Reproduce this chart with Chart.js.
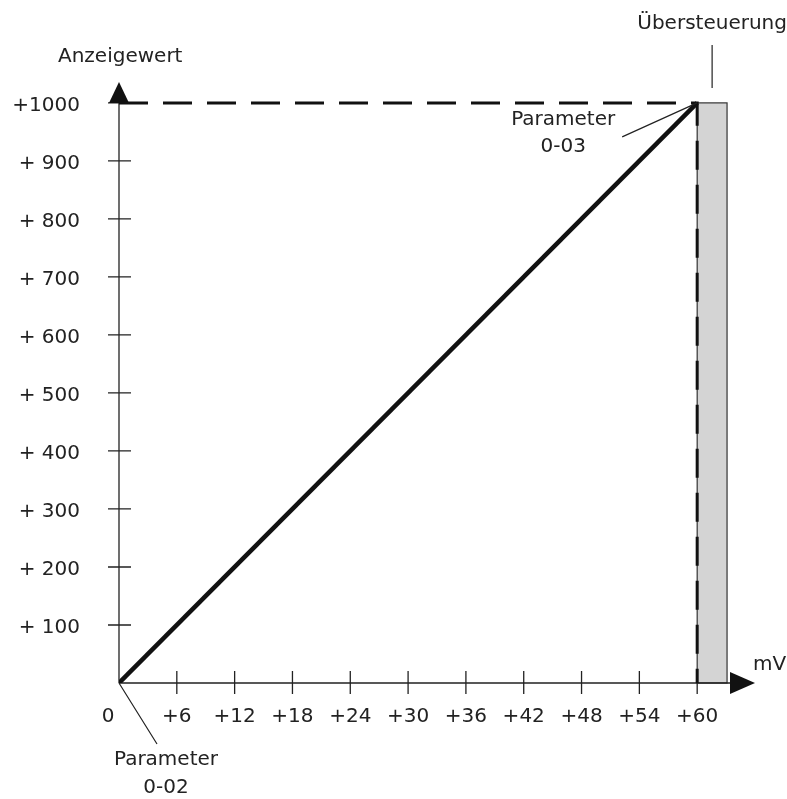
<!DOCTYPE html>
<html>
<head>
<meta charset="utf-8">
<script src="https://cdn.jsdelivr.net/npm/chart.js@4.4.0/dist/chart.umd.min.js"></script>
<style>
    html, body { margin: 0; padding: 0; background: #fff; }
</style>
</head>
<body>
<canvas id="lineChart" width="787" height="799"></canvas>
<script>
// axis ticks
const xTicks = [0, 6, 12, 18, 24, 30, 36, 42, 48, 54, 60];
const xTickLabels = ['0', '+6', '+12', '+18', '+24', '+30', '+36', '+42', '+48', '+54', '+60'];
const yTicks = [100, 200, 300, 400, 500, 600, 700, 800, 900, 1000];
const yTickLabels = ['+ 100', '+ 200', '+ 300', '+ 400', '+ 500', '+ 600', '+ 700', '+ 800', '+ 900', '+1000'];

// display value vs. input mV
const signalX = [0, 60];
const signalY = [0, 1000];

// dashed limit lines
const limitX = [0, 60, 60];
const limitY = [1000, 1000, 0];

// overload band (mV)
const overloadBand = [60, 63.1];
const overloadTop = 1000;

const xMax = 66;
const yMax = 1036;

const FONT = '20px "DejaVu Sans", sans-serif';
const INK = '#222';

function points(xs, ys) {
    return xs.map((x, i) => ({ x: x, y: ys[i] }));
}

const schemePlugin = {
    id: 'scheme',
    beforeDatasetsDraw(chart) {
        const ctx = chart.ctx;
        const xs = chart.scales.x;
        const ys = chart.scales.y;
        const x0 = xs.getPixelForValue(0);
        const y0 = ys.getPixelForValue(0);

        // overload band
        const bl = xs.getPixelForValue(overloadBand[0]);
        const br = xs.getPixelForValue(overloadBand[1]);
        const bt = ys.getPixelForValue(overloadTop);
        ctx.save();
        ctx.fillStyle = '#d4d4d4';
        ctx.fillRect(bl, bt, br - bl, y0 - bt);
        ctx.strokeStyle = '#333';
        ctx.lineWidth = 1.2;
        ctx.strokeRect(bl, bt, br - bl, y0 - bt);

        // axes
        ctx.strokeStyle = INK;
        ctx.lineWidth = 1.3;
        ctx.beginPath();
        ctx.moveTo(x0, y0);
        ctx.lineTo(x0, chart.chartArea.top + 18);
        ctx.moveTo(x0, y0);
        ctx.lineTo(chart.chartArea.right - 22, y0);
        xTicks.slice(1).forEach(v => {
            const px = xs.getPixelForValue(v);
            ctx.moveTo(px, y0 - 12);
            ctx.lineTo(px, y0 + 11);
        });
        yTicks.forEach(v => {
            const py = ys.getPixelForValue(v);
            ctx.moveTo(x0 - 11, py);
            ctx.lineTo(x0 + 12, py);
        });
        ctx.stroke();

        // arrow heads
        ctx.fillStyle = '#111';
        const top = chart.chartArea.top;
        ctx.beginPath();
        ctx.moveTo(x0, top);
        ctx.lineTo(x0 - 10, top + 21);
        ctx.lineTo(x0 + 10, top + 21);
        ctx.closePath();
        ctx.fill();
        const right = chart.chartArea.right;
        ctx.beginPath();
        ctx.moveTo(right, y0);
        ctx.lineTo(right - 25, y0 - 11);
        ctx.lineTo(right - 25, y0 + 11);
        ctx.closePath();
        ctx.fill();
        ctx.restore();
    },
    afterDraw(chart) {
        const ctx = chart.ctx;
        const xs = chart.scales.x;
        const ys = chart.scales.y;
        const x0 = xs.getPixelForValue(0);
        const y0 = ys.getPixelForValue(0);
        const xEnd = xs.getPixelForValue(60);
        const yEnd = ys.getPixelForValue(1000);

        ctx.save();
        ctx.font = FONT;
        ctx.fillStyle = INK;
        ctx.textBaseline = 'middle';

        // tick labels
        ctx.textAlign = 'right';
        yTicks.forEach((v, i) => {
            ctx.fillText(yTickLabels[i], x0 - 39, ys.getPixelForValue(v) + 3);
        });
        ctx.textAlign = 'center';
        xTicks.forEach((v, i) => {
            const off = v === 0 ? -11 : 0;
            ctx.fillText(xTickLabels[i], xs.getPixelForValue(v) + off, y0 + 34);
        });

        // axis titles
        ctx.textAlign = 'left';
        ctx.fillText('Anzeigewert', x0 - 61, 57);
        ctx.fillText('mV', chart.chartArea.right - 2, y0 - 18);

        // leader lines
        ctx.strokeStyle = INK;
        ctx.lineWidth = 1.2;
        const bandMid = xs.getPixelForValue((overloadBand[0] + overloadBand[1]) / 2);
        ctx.beginPath();
        ctx.moveTo(bandMid, yEnd - 15);
        ctx.lineTo(bandMid, 45);
        ctx.moveTo(xEnd, yEnd);
        ctx.lineTo(xEnd - 75, yEnd + 34);
        ctx.moveTo(x0, y0);
        ctx.lineTo(x0 + 38, y0 + 61);
        ctx.stroke();

        // annotations
        ctx.textAlign = 'center';
        ctx.fillText('Übersteuerung', bandMid, 24);
        ctx.fillText('Parameter', xEnd - 134, yEnd + 17);
        ctx.fillText('0-03', xEnd - 134, yEnd + 44);
        ctx.fillText('Parameter', x0 + 47, y0 + 77);
        ctx.fillText('0-02', x0 + 47, y0 + 105);
        ctx.restore();
    }
};

const ctx = document.getElementById('lineChart').getContext('2d');
new Chart(ctx, {
    type: 'scatter',
    data: {
        datasets: [{
            data: points(signalX, signalY),
            showLine: true,
            borderColor: '#111',
            borderWidth: 4.5,
            pointRadius: 0
        }, {
            data: points(limitX, limitY),
            showLine: true,
            borderColor: '#111',
            borderWidth: 3,
            borderDash: [29, 15],
            pointRadius: 0
        }]
    },
    options: {
        responsive: false,
        devicePixelRatio: 1,
        animation: false,
        layout: {
            padding: { left: 119, right: 32, top: 82, bottom: 116 }
        },
        plugins: {
            legend: { display: false },
            tooltip: { enabled: false }
        },
        scales: {
            x: { type: 'linear', min: 0, max: xMax, display: false },
            y: { type: 'linear', min: 0, max: yMax, display: false }
        }
    },
    plugins: [schemePlugin]
});
</script>
</body>
</html>
